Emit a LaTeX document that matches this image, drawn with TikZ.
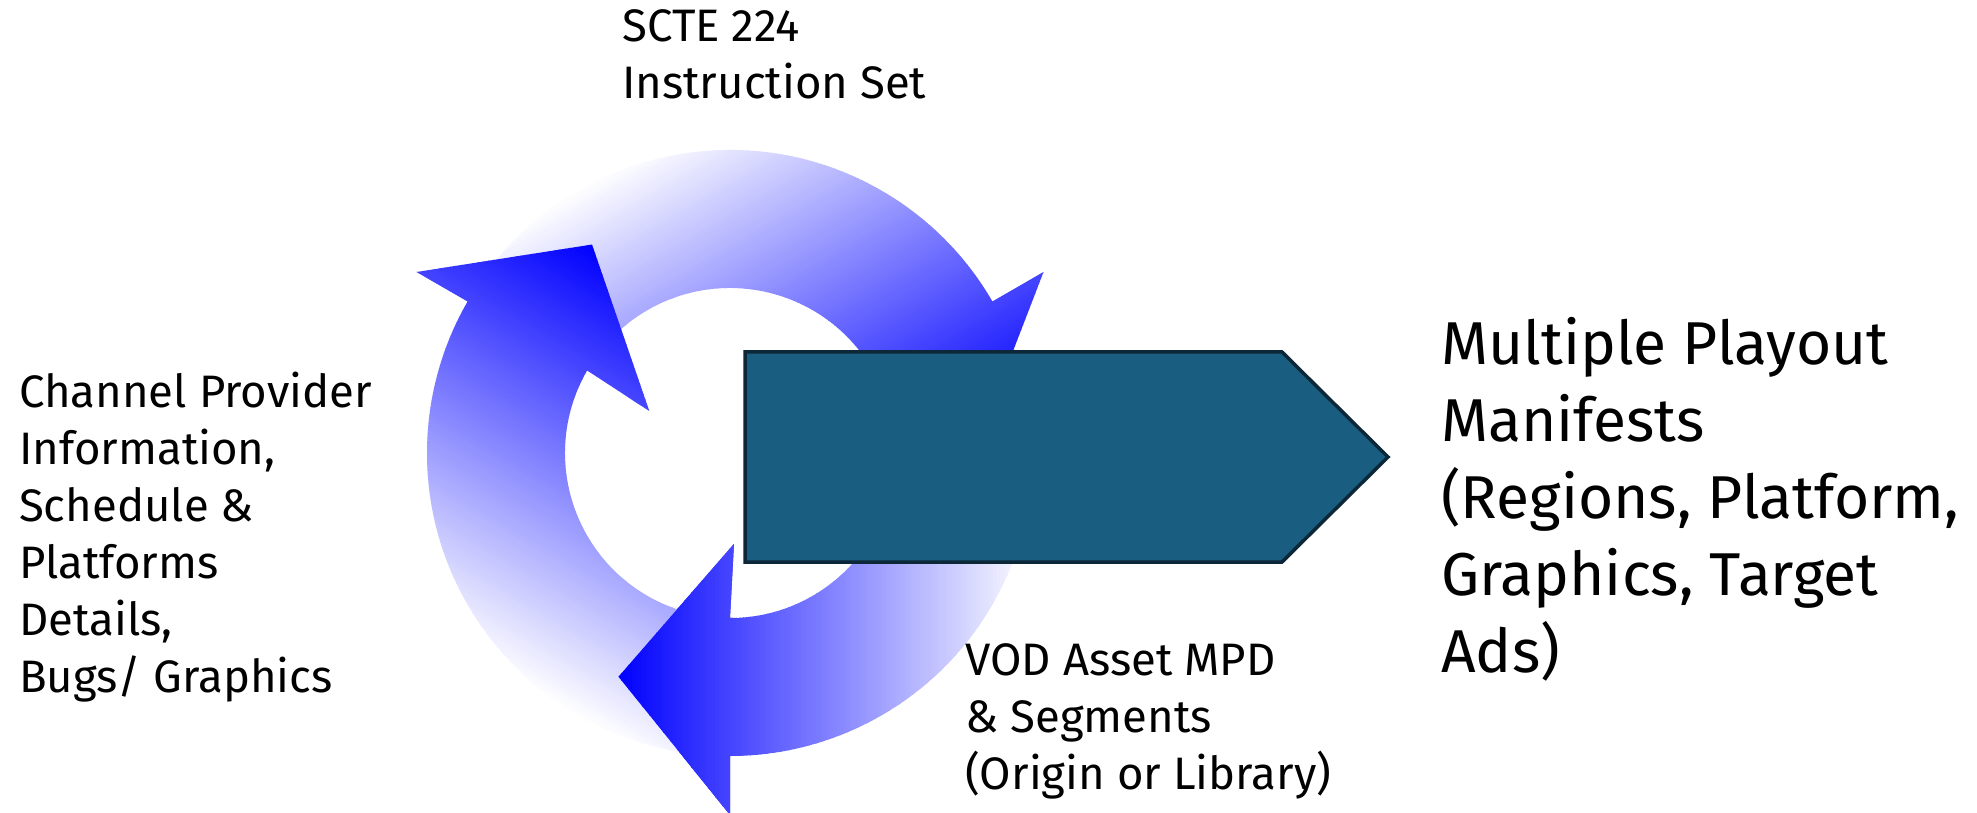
\documentclass[tikz,border=0pt]{standalone}
\usepackage{fontspec}
\setmainfont{Fira Sans}
\definecolor{platefill}{RGB}{25,94,128}
\definecolor{plateedge}{RGB}{12,40,56}
\definecolor{cycleblue}{RGB}{0,0,255}

% One curved arrow of the cycle, drawn with its head at the bottom and
% turned by #1 degrees about the ring centre. The gradient runs from blue
% at the head to white at the tail, as a stack of thin colour bands.
% With #2=1 only the head is painted (used to lay it over the next tail).
\newcommand\cyclearrow[2]{%
  \begin{scope}[shift={(730,359)},rotate=#1]
    \clip (30:303) arc[start angle=30,end angle=-90,radius=303]
      -- (-90:362) -- (-116.5:250) -- (-87.5:91) -- (-90:165)
      arc[start angle=-90,end angle=30,radius=165] -- cycle;
    \ifnum#2=1
      \clip (-90:362) -- (-116.5:250) -- (-87.5:91) -- cycle;
    \fi
    \foreach \i in {0,...,119}{%
      \pgfmathsetmacro\xa{-112+3.475*\i}%
      \pgfmathsetmacro\pc{100-100*(\i+0.5)/120}%
      \fill[cycleblue!\pc!white] (\xa,-420) rectangle ++(4,840);
    }
  \end{scope}}

% text nodes are anchored at the baseline of their last line
\tikzset{
  label text/.style={font=\fontsize{45.5}{57}\selectfont, align=left,
    inner sep=0pt, anchor=base west, text=black},
  big text/.style={label text, font=\fontsize{60.5}{77}\selectfont},
  plate/.style={line width=3.5pt, draw=plateedge, fill=platefill,
    line join=miter}
}

\begin{document}
\begin{tikzpicture}[x=1pt,y=1pt]
  \useasboundingbox (0,0) rectangle (1977,812);
  \fill[white] (0,0) rectangle (1977,812);

  % the three arrows of the cycle
  \cyclearrow{0}{0}
  \cyclearrow{120}{0}
  \cyclearrow{-120}{0}
  \cyclearrow{0}{1}

  % output arrow
  \draw[plate] (745,250) -- (745,460) -- (1282,460) -- (1388,355)
    -- (1282,250) -- cycle;

  % labels
  \node[label text] (scte) at (622,713) {SCTE 224\\Instruction Set};
  \node[label text] (provider) at (19,120)
    {Channel Provider\\Information,\\Schedule \&\\Platforms\\Details,\\Bugs/ Graphics};
  \node[label text] (vod) at (965,23)
    {VOD Asset MPD\\\& Segments\\(Origin or Library)};
  \node[big text] (manifests) at (1441,140)
    {Multiple Playout\\Manifests\\(Regions, Platform,\\Graphics, Target\\Ads)};
\end{tikzpicture}
\end{document}
